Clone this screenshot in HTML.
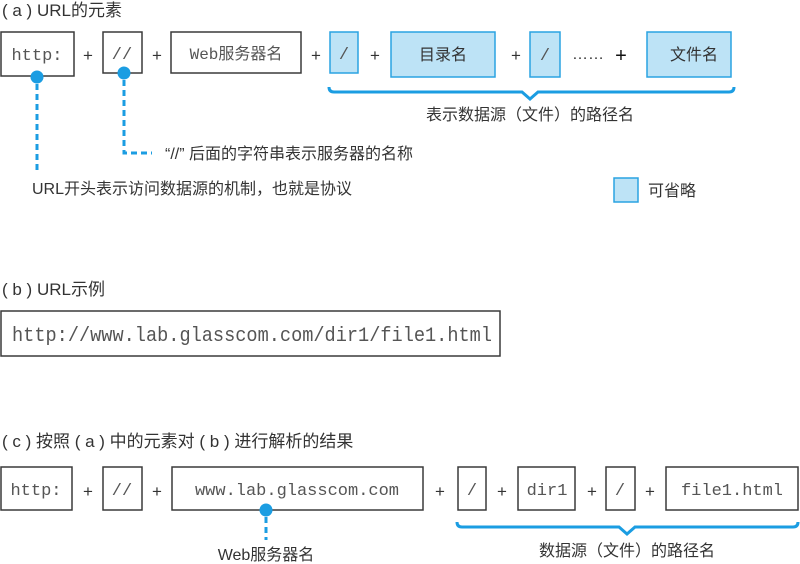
<!DOCTYPE html>
<html><head><meta charset="utf-8"><style>
body{margin:0;background:#fff}
svg{display:block}
.t{font-family:"Liberation Sans","Noto Sans CJK SC",sans-serif;fill:#333}
.m{font-family:"Liberation Mono",monospace;fill:#555}
.b{fill:#fff;stroke:#3a3a3a;stroke-width:1.5}
.c{fill:#bde3f6;stroke:#2aa3e2;stroke-width:1.5}
.bl{stroke:#1b9de2;fill:none}
</style></head><body>
<svg width="800" height="564" viewBox="0 0 800 564">
<!-- (a) -->
<text class="t" x="2" y="16" font-size="17">( a ) URL的元素</text>
<rect class="b" x="1" y="32" width="73" height="44"/><text class="m" x="37" y="60" font-size="17" text-anchor="middle">http:</text>
<text class="t" x="88" y="61" font-size="17" text-anchor="middle">+</text>
<rect class="b" x="103" y="32" width="39" height="41"/><text class="m" x="122" y="59" font-size="17" text-anchor="middle">//</text>
<text class="t" x="157" y="61" font-size="17" text-anchor="middle">+</text>
<rect class="b" x="171" y="32" width="130" height="41"/><text class="m" x="236" y="59" font-size="16" text-anchor="middle">Web服务器名</text>
<text class="t" x="316" y="61" font-size="17" text-anchor="middle">+</text>
<rect class="c" x="330" y="32" width="28" height="41"/><text class="m" x="344" y="59" font-size="17" text-anchor="middle">/</text>
<text class="t" x="375" y="61" font-size="17" text-anchor="middle">+</text>
<rect class="c" x="391" y="32" width="104" height="45"/><text class="t" x="443" y="60" font-size="16" text-anchor="middle">目录名</text>
<text class="t" x="516" y="61" font-size="17" text-anchor="middle">+</text>
<rect class="c" x="530" y="32" width="30" height="45"/><text class="m" x="545" y="60" font-size="17" text-anchor="middle">/</text>
<text class="t" x="572" y="59" font-size="16">……</text><text class="t" x="621" y="62" font-size="20" text-anchor="middle" style="fill:#111">+</text>
<rect class="c" x="647" y="32" width="84" height="45"/><text class="t" x="694" y="60" font-size="16" text-anchor="middle">文件名</text>
<path class="bl" stroke-width="3" d="M329,87 q0,5 5,5 H522 l8,7 l8,-7 H729 q5,0 5,-5"/>
<text class="t" x="530" y="120" font-size="16" text-anchor="middle">表示数据源（文件）的路径名</text>
<circle cx="37" cy="77" r="6.5" fill="#1b9de2"/>
<path class="bl" stroke-width="3" stroke-dasharray="6,4" d="M37,84 V172"/>
<circle cx="124" cy="73" r="6.5" fill="#1b9de2"/>
<path class="bl" stroke-width="3" stroke-dasharray="6,4" d="M124,80 V153 H152"/>
<text class="t" x="165" y="159" font-size="16">“//” 后面的字符串表示服务器的名称</text>
<text class="t" x="32" y="194" font-size="16">URL开头表示访问数据源的机制，也就是协议</text>
<rect class="c" x="614" y="178" width="24" height="24"/>
<text class="t" x="648" y="196" font-size="16">可省略</text>
<!-- (b) -->
<text class="t" x="2" y="295" font-size="17">( b ) URL示例</text>
<rect class="b" x="1" y="311" width="499" height="45"/>
<text class="m" x="12" y="341" font-size="20" textLength="480" lengthAdjust="spacingAndGlyphs">http://www.lab.glasscom.com/dir1/file1.html</text>
<!-- (c) -->
<text class="t" x="2" y="447" font-size="17">( c ) 按照 ( a ) 中的元素对 ( b ) 进行解析的结果</text>
<rect class="b" x="1" y="467" width="71" height="43"/><text class="m" x="36" y="495" font-size="17" text-anchor="middle">http:</text>
<text class="t" x="88" y="497" font-size="17" text-anchor="middle">+</text>
<rect class="b" x="103" y="467" width="39" height="43"/><text class="m" x="122" y="495" font-size="17" text-anchor="middle">//</text>
<text class="t" x="157" y="497" font-size="17" text-anchor="middle">+</text>
<rect class="b" x="172" y="467" width="251" height="43"/><text class="m" x="297" y="495" font-size="17" text-anchor="middle">www.lab.glasscom.com</text>
<text class="t" x="440" y="497" font-size="17" text-anchor="middle">+</text>
<rect class="b" x="458" y="467" width="28" height="43"/><text class="m" x="472" y="495" font-size="17" text-anchor="middle">/</text>
<text class="t" x="502" y="497" font-size="17" text-anchor="middle">+</text>
<rect class="b" x="518" y="467" width="57" height="43"/><text class="m" x="547" y="495" font-size="17" text-anchor="middle">dir1</text>
<text class="t" x="592" y="497" font-size="17" text-anchor="middle">+</text>
<rect class="b" x="606" y="467" width="29" height="43"/><text class="m" x="620" y="495" font-size="17" text-anchor="middle">/</text>
<text class="t" x="650" y="497" font-size="17" text-anchor="middle">+</text>
<rect class="b" x="666" y="467" width="132" height="43"/><text class="m" x="732" y="495" font-size="17" text-anchor="middle">file1.html</text>
<circle cx="266" cy="510" r="6.5" fill="#1b9de2"/>
<path class="bl" stroke-width="3" stroke-dasharray="6,4" d="M266,517 V540"/>
<text class="t" x="266" y="560" font-size="16" text-anchor="middle">Web服务器名</text>
<path class="bl" stroke-width="3" d="M457,522 q0,5 5,5 H619 l8,7 l8,-7 H793 q5,0 5,-5"/>
<text class="t" x="627" y="556" font-size="16" text-anchor="middle">数据源（文件）的路径名</text>
</svg>
</body></html>
